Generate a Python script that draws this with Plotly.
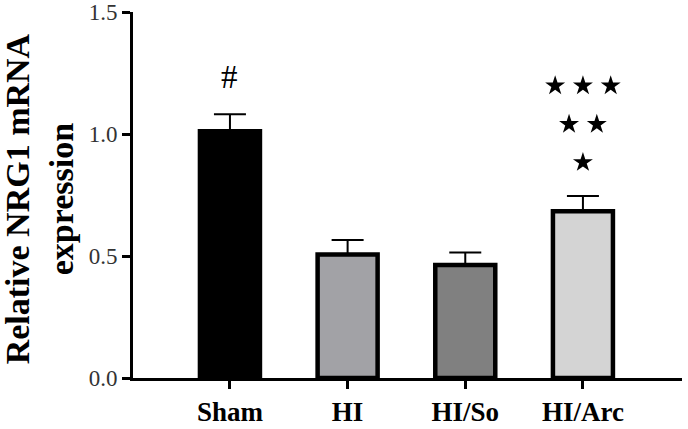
import plotly.graph_objects as go

categories = ["Sham", "HI", "HI/So", "HI/Arc"]
values = [1.012, 0.506, 0.463, 0.684]
errors = [0.069, 0.060, 0.052, 0.062]
colors = ["#000000", "#a2a2a6", "#808080", "#d4d4d4"]
y_ticks = [0.0, 0.5, 1.0, 1.5]
y_ticktext = ["0.0", "0.5", "1.0", "1.5"]

# significance marks: (category index, row offset above error bar, number of stars)
star_rows = [(3, 0.138, 1), (3, 0.294, 2), (3, 0.452, 3)]
hash_mark = (0, 0.152, "#")

x = list(range(len(categories)))

fig = go.Figure()
fig.add_trace(go.Bar(
    x=x, y=values, width=0.51,
    marker=dict(color=colors, line=dict(color="black", width=4.5)),
    error_y=dict(type="data", symmetric=False, array=errors,
                 arrayminus=[0] * len(errors), color="black",
                 thickness=2, width=16),
    showlegend=False,
))

sx, sy = [], []
step = 0.236
for ci, off, n in star_rows:
    top = values[ci] + errors[ci] + off
    for k in range(n):
        sx.append(ci + (k - (n - 1) / 2) * step)
        sy.append(top)
fig.add_trace(go.Scatter(x=sx, y=sy, mode="markers",
                         marker=dict(symbol="star", size=15, color="black",
                                     line=dict(width=0)),
                         showlegend=False, cliponaxis=False))

ci, off, txt = hash_mark
fig.add_annotation(x=ci, y=values[ci] + errors[ci] + off, text=txt,
                   showarrow=False, font=dict(family="Liberation Serif", size=33, color="black"))

fig.add_annotation(xref="paper", yref="paper", x=-0.17, y=0.49,
                   text="<b>Relative NRG1 mRNA<br>expression</b>", textangle=-90,
                   showarrow=False, xanchor="center", yanchor="middle",
                   font=dict(family="Liberation Serif", size=34, color="black"))

fig.update_layout(
    width=688, height=429,
    margin=dict(l=133, r=6, t=12, b=51, autoexpand=False),
    paper_bgcolor="white", plot_bgcolor="white",
    xaxis=dict(range=[-0.824, 3.842], tickvals=x,
               ticktext=["<b>%s</b>" % c for c in categories],
               showline=True, linecolor="black", linewidth=3,
               ticks="outside", ticklen=8, tickwidth=3, tickcolor="black",
               showgrid=False, zeroline=False, automargin=False,
               tickfont=dict(family="Liberation Serif", size=27, color="black")),
    yaxis=dict(range=[0, 1.5005], tickvals=y_ticks, ticktext=y_ticktext,
               showline=True, linecolor="black", linewidth=3,
               ticks="outside", ticklen=8, tickwidth=3, tickcolor="black",
               showgrid=False, zeroline=False, automargin=False,
               tickfont=dict(family="Liberation Serif", size=23, color="#333333")),
)

fig.write_html("out.html")
